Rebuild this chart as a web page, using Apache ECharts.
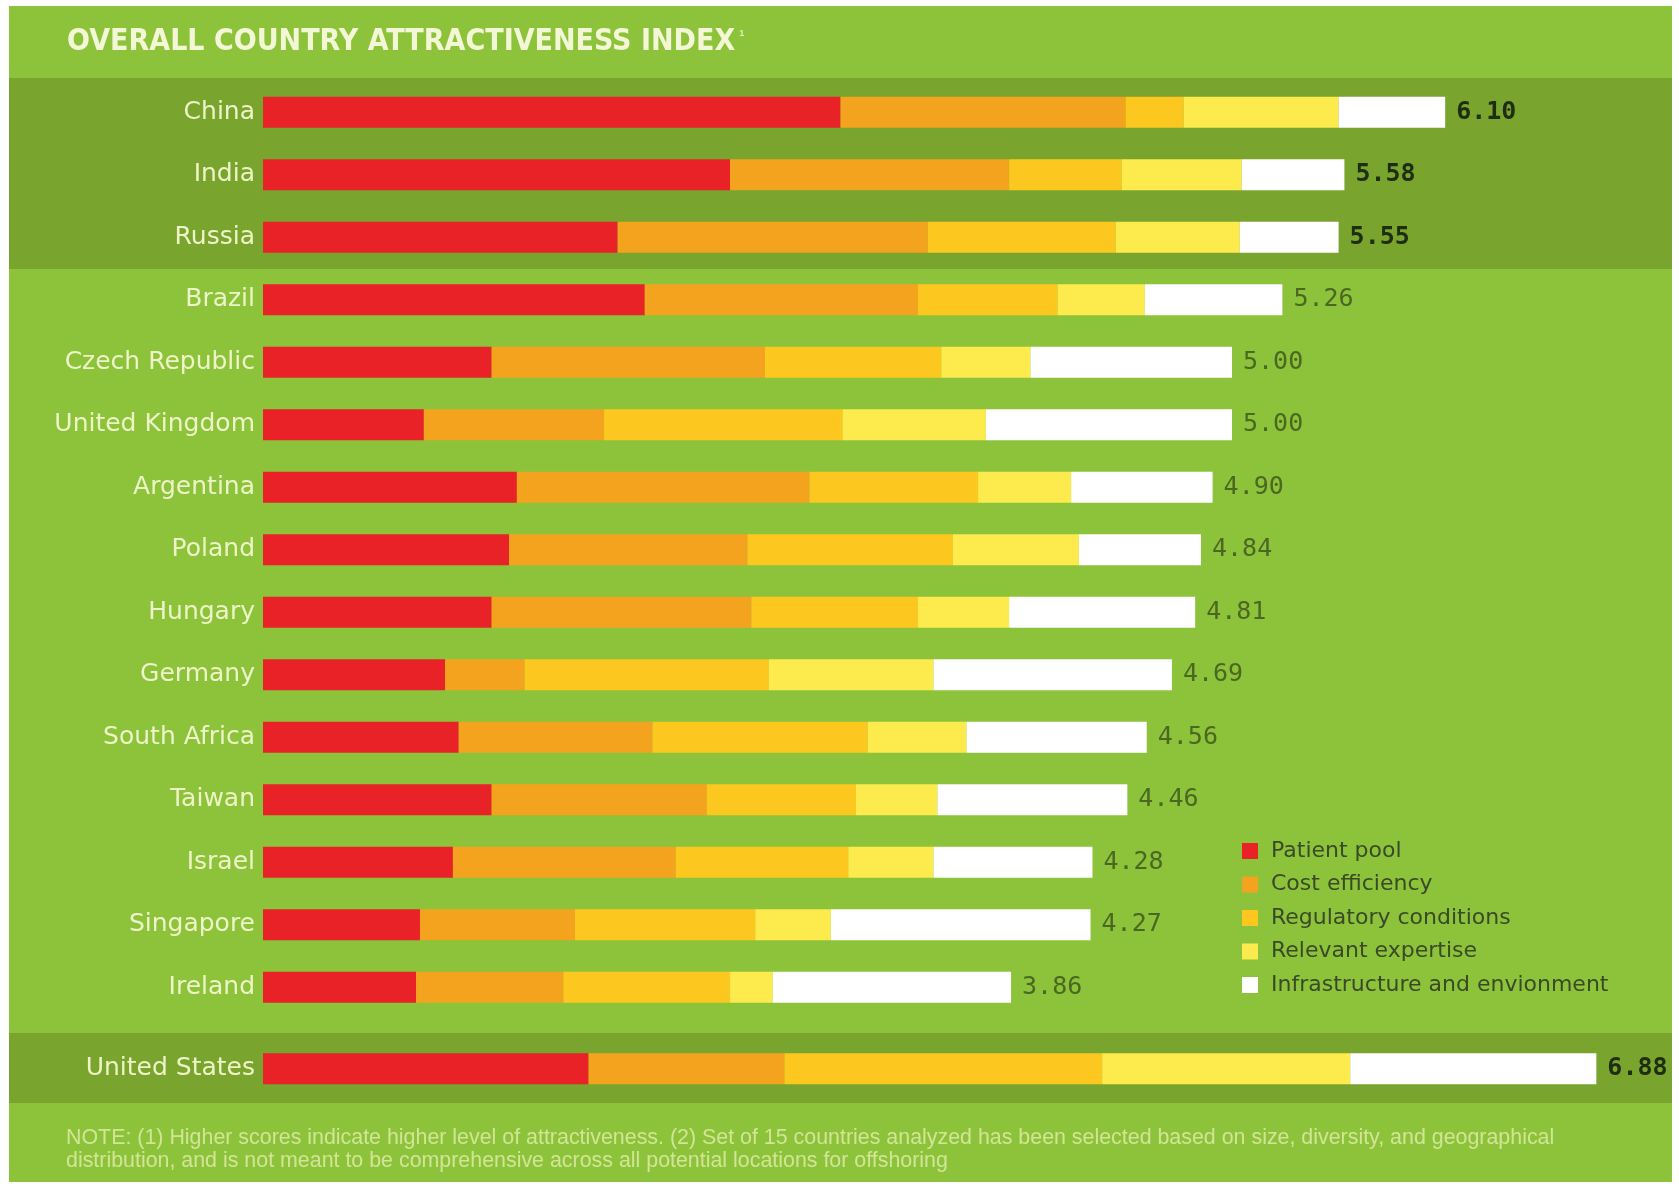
<!DOCTYPE html>
<html>
<head>
<meta charset="utf-8">
<script src="https://cdn.jsdelivr.net/npm/echarts@6/dist/echarts.min.js"></script>
<style>
  html, body { margin: 0; padding: 0; background: #ffffff; }
  #chart { width: 1679px; height: 1184px; }
</style>
</head>
<body>
<div id="chart"></div>
<script>
// ---- Data (US is the last entry) ----
const categories = ['China', 'India', 'Russia', 'Brazil', 'Czech Republic', 'United Kingdom', 'Argentina', 'Poland', 'Hungary', 'Germany', 'South Africa', 'Taiwan', 'Israel', 'Singapore', 'Ireland', 'United States'];
const patientPool     = [2.98, 2.41, 1.83, 1.97, 1.18, 0.83, 1.31, 1.27, 1.18, 0.94, 1.01, 1.18, 0.98, 0.81, 0.79, 1.68];
const costEfficiency  = [1.47, 1.44, 1.60, 1.41, 1.41, 0.93, 1.51, 1.23, 1.34, 0.41, 1.00, 1.11, 1.15, 0.80, 0.76, 1.01];
const regulatory      = [0.30, 0.58, 0.97, 0.72, 0.91, 1.23, 0.87, 1.06, 0.86, 1.26, 1.11, 0.77, 0.89, 0.93, 0.86, 1.64];
const expertise       = [0.80, 0.62, 0.64, 0.45, 0.46, 0.74, 0.48, 0.65, 0.47, 0.85, 0.51, 0.42, 0.44, 0.39, 0.22, 1.28];
const infrastructure  = [0.55, 0.53, 0.51, 0.71, 1.04, 1.27, 0.73, 0.63, 0.96, 1.23, 0.93, 0.98, 0.82, 1.34, 1.23, 1.27];
const totals          = [6.10, 5.58, 5.55, 5.26, 5.00, 5.00, 4.90, 4.84, 4.81, 4.69, 4.56, 4.46, 4.28, 4.27, 3.86, 6.88];
const highlighted     = ['China', 'India', 'Russia', 'United States'];
const seriesNames     = ['Patient pool', 'Cost efficiency', 'Regulatory conditions', 'Relevant expertise', 'Infrastructure and envionment'];
const seriesValues    = [patientPool, costEfficiency, regulatory, expertise, infrastructure];
const seriesColors    = ['#e92228', '#f4a31e', '#fcc820', '#fdeb4e', '#ffffff'];

const mainCats = categories.slice(0, 15);
const usCats = categories.slice(15);

const chart = echarts.init(document.getElementById('chart'), null, { renderer: 'canvas' });

const labelFont = "'DejaVu Sans', 'Noto Sans', sans-serif";
const monoFont = "'DejaVu Sans Mono', 'Liberation Mono', monospace";

function valueLabel(p) {
  const idx = categories.indexOf(p.name);
  const v = totals[idx].toFixed(2);
  return highlighted.indexOf(p.name) >= 0 ? '{b|' + v + '}' : '{n|' + v + '}';
}

const series = [];
[0, 1].forEach(function (g) {
  seriesValues.forEach(function (vals, k) {
    const data = g === 0 ? vals.slice(0, 15) : vals.slice(15);
    const s = {
      type: 'bar',
      name: seriesNames[k],
      stack: 'total' + g,
      xAxisIndex: g,
      yAxisIndex: g,
      barWidth: 31,
      data: data,
      itemStyle: { color: seriesColors[k] },
      emphasis: { disabled: true },
      silent: true
    };
    if (k === 4) {
      s.label = {
        show: true,
        position: 'right',
        distance: 11,
        formatter: valueLabel,
        rich: {
          b: { fontFamily: monoFont, fontWeight: 'bold', fontSize: 25, color: '#1f2d12' },
          n: { fontFamily: monoFont, fontWeight: 'normal', fontSize: 25, color: '#4b6722' }
        }
      };
    }
    series.push(s);
  });
});

const yAxisCommon = {
  type: 'category',
  inverse: true,
  axisLine: { show: false },
  axisTick: { show: false },
  splitLine: { show: false },
  axisLabel: {
    margin: 8,
    fontFamily: labelFont,
    fontSize: 25,
    color: '#eef4c8'
  }
};

const option = {
  backgroundColor: '#ffffff',
  animation: false,
  title: {
    left: 62,
    top: 22,
    text: '{t|OVERALL COUNTRY ATTRACTIVENESS INDEX}{s|1}',
    textStyle: {
      rich: {
        t: { fontFamily: "'Liberation Sans Narrow', 'DejaVu Sans Condensed', 'Liberation Sans', sans-serif", fontWeight: 'bold', fontSize: 30, color: '#f3f7d6' },
        s: { fontFamily: "'Liberation Sans', sans-serif", fontSize: 9, color: '#e4efb4', padding: [0, 0, 16, 4] }
      }
    }
  },
  legend: {
    orient: 'vertical',
    left: 1237,
    top: 835,
    itemWidth: 16,
    itemHeight: 16,
    itemGap: 11.5,
    icon: 'rect',
    data: seriesNames,
    selectedMode: false,
    textStyle: {
      fontFamily: labelFont,
      fontSize: 22,
      color: '#3a4a28',
      padding: [0, 0, 0, 8]
    }
  },
  graphic: [
    { type: 'rect', z: -10, shape: { x: 9, y: 6, width: 1663, height: 1176 }, style: { fill: '#8cc33a' }, silent: true },
    { type: 'rect', z: -9, shape: { x: 9, y: 78, width: 1663, height: 191 }, style: { fill: '#79a52e' }, silent: true },
    { type: 'rect', z: -9, shape: { x: 9, y: 1033, width: 1663, height: 70 }, style: { fill: '#79a52e' }, silent: true },
    {
      type: 'text', z: 5, left: 66, top: 1127, silent: true,
      style: {
        text: 'NOTE: (1) Higher scores indicate higher level of attractiveness. (2) Set of 15 countries analyzed has been selected based on size, diversity, and geographical\ndistribution, and is not meant to be comprehensive across all potential locations for offshoring',
        font: "21.4px 'Liberation Sans', Arial, sans-serif",
        lineHeight: 23,
        fill: '#d2e596'
      }
    }
  ],
  grid: [
    { left: 263, right: 59.4, top: 81, height: 937.5 },
    { left: 263, right: 59.4, top: 1037.4, height: 62.5 }
  ],
  xAxis: [
    { type: 'value', gridIndex: 0, min: 0, max: 7, show: false },
    { type: 'value', gridIndex: 1, min: 0, max: 7, show: false }
  ],
  yAxis: [
    Object.assign({}, yAxisCommon, { gridIndex: 0, data: mainCats }),
    Object.assign({}, yAxisCommon, { gridIndex: 1, data: usCats })
  ],
  series: series
};

chart.setOption(option);
</script>
</body>
</html>
